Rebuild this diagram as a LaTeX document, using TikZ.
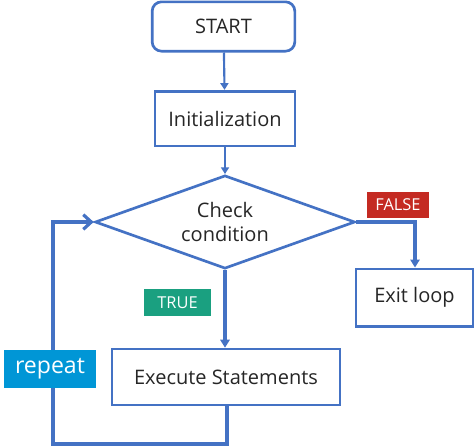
\documentclass[tikz,border=0pt]{standalone}
\usepackage{fontspec}
\setmainfont{Open Sans}
\usepackage{xcolor}
\definecolor{flowblue}{RGB}{68,114,196}
\definecolor{falsered}{RGB}{196,42,34}
\definecolor{truegreen}{RGB}{26,160,128}
\definecolor{repeatblue}{RGB}{0,150,214}
\usetikzlibrary{arrows.meta}
\usetikzlibrary{shapes.geometric}
\newcommand{\labelsize}{\fontsize{12.3}{14}\selectfont}
\tikzset{
    common/.style={draw=flowblue, line width=2pt, fill=white, inner sep=0pt,
        font=\fontsize{15}{18}\selectfont, text=black!85},
    terminal/.style={common, rectangle, rounded corners=7pt},
    process/.style={common, rectangle},
    decision/.style={common, diamond, aspect=2.8, align=center},
    tag/.style={rectangle, inner sep=0pt, text=white, font=\labelsize},
    flow/.style={draw=flowblue, line width=1.6pt, -{Triangle[length=5pt, width=6pt]}},
    branch/.style={draw=flowblue, line width=2.6pt, -{Triangle[length=6pt, width=7pt]}},
    loopback/.style={draw=flowblue, line width=2.6pt, -{Straight Barb[length=6pt, width=11pt, line width=2.4pt]}}
}

\begin{document}
\begin{tikzpicture}[x=0.75pt, y=-0.75pt]
    \useasboundingbox (0,0) rectangle (474,447);

    % main column
    \node[terminal, minimum width=107pt, minimum height=37pt] (start) at (223.5,26.5) {START};
    \node[process, minimum width=105pt, minimum height=41pt] (init) at (225,118.5) {Initialization};
    \node[decision, minimum width=195pt, minimum height=70pt] (check) at (225,222) {Check\\condition};
    \node[process, minimum width=171pt, minimum height=42pt] (exec) at (226,377) {Execute Statements};
    \node[process, minimum width=88pt, minimum height=43pt] (exit) at (414.5,297.5) {Exit loop};

    % labels
    \node[tag, fill=falsered, minimum width=46.5pt, minimum height=19.5pt] (false) at (398,205) {FALSE};
    \node[tag, fill=truegreen, minimum width=50pt, minimum height=20pt] (true) at (177.5,302.5) {TRUE};

    \coordinate (false-turn) at (415,222);
    \coordinate (loop-bottom) at (227,444);
    \coordinate (loop-corner) at (53,444);
    \coordinate (loop-top) at (53,222);

    \draw[flow] (start) -- (init);
    \draw[flow] (init) -- (check);
    \draw[branch] (check.east) -- (false-turn) -- (exit.north -| false-turn);
    \draw[branch] (check.south) -- (check.south |- exec.north);
    \draw[loopback] (exec.south -| loop-bottom) -- (loop-bottom) -- (loop-corner) -- (loop-top) -- (check.west);

    \node[tag, fill=repeatblue, minimum width=69pt, minimum height=28.5pt,
        font=\fontsize{17.3}{20}\selectfont] (repeat) at (50,369) {repeat};
\end{tikzpicture}
\end{document}
